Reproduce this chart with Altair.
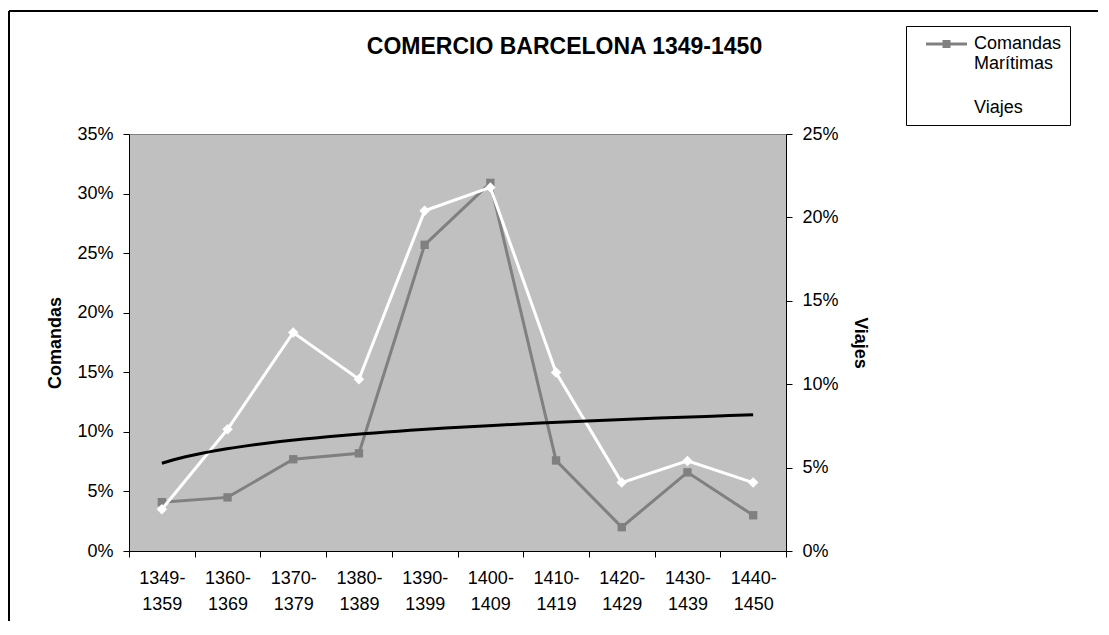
import altair as alt
import pandas as pd

# ---- data ----
label_top = ["1349-", "1360-", "1370-", "1380-", "1390-", "1400-", "1410-", "1420-", "1430-", "1440-"]
label_bottom = ["1359", "1369", "1379", "1389", "1399", "1409", "1419", "1429", "1439", "1450"]
period_index = [1, 2, 3, 4, 5, 6, 7, 8, 9, 10]
comandas = [0.041, 0.045, 0.077, 0.082, 0.257, 0.309, 0.076, 0.020, 0.066, 0.030]
viajes = [0.025, 0.073, 0.131, 0.103, 0.204, 0.218, 0.107, 0.041, 0.054, 0.041]
left_ticks = [0, 0.05, 0.10, 0.15, 0.20, 0.25, 0.30, 0.35]
right_ticks = [0, 0.05, 0.10, 0.15, 0.20, 0.25]
series_names = ["Comandas Marítimas", "Viajes"]

df = pd.DataFrame({
    "idx": period_index,
    "periodo": [a + b for a, b in zip(label_top, label_bottom)],
    "comandas": comandas,
    "viajes": viajes,
})

FONT = "Liberation Sans"
W, H = 657, 417
half_band = W / len(period_index) / 2

label_pairs = ",".join("['%s','%s']" % (a, b) for a, b in zip(label_top, label_bottom))
x_label_expr = "datum.value > %d ? '' : [%s][floor(datum.value)]" % (len(period_index), label_pairs)

x_enc = alt.X(
    "idx:Q",
    scale=alt.Scale(domain=[0.5, len(period_index) + 0.5], nice=False, zero=False),
    axis=alt.Axis(
        title=None,
        values=[i + 0.5 for i in range(len(period_index) + 1)],
        labelExpr=x_label_expr,
        labelOffset=half_band,
        labelFlush=False,
        labelOverlap=False,
        labelBound=False,
        labelFontSize=18,
        labelLineHeight=26,
        labelPadding=12,
        tickSize=6,
        grid=False,
        domainColor="black",
        tickColor="black",
        labelColor="black",
    ),
)

left_scale = alt.Scale(domain=[0, 0.35], nice=False, zero=True)
right_scale = alt.Scale(domain=[0, 0.25], nice=False, zero=True)

color_scale = alt.Scale(domain=series_names, range=["#808080", "#FFFFFF"])
# line + square legend glyph (unit = 10px for symbolSize 400)
legend_symbol = "M-2.05,-0.15H2.05V0.15H-2.05Z M-0.4,-0.4H0.4V0.4H-0.4Z"
legend = alt.Legend(
    title=None,
    orient="none",
    legendX=906 - 129,
    legendY=26 - 134,
    fillColor="white",
    strokeColor="black",
    padding=8,
    symbolType=legend_symbol,
    symbolSize=400,
    symbolStrokeWidth=0,
    symbolOffset=22.5,
    labelFontSize=18,
    labelFont=FONT,
    labelColor="black",
    labelOffset=17.5,
    rowPadding=25,
    labelExpr="datum.label == 'Comandas Marítimas' ? ['Comandas', 'Marítimas'] : datum.label",
)

left_axis = alt.Axis(
    title="Comandas", values=left_ticks, format=".0%", orient="left", grid=False,
    labelFontSize=18, titleFontSize=18, titleFontWeight="bold", titlePadding=12,
    tickSize=6, labelPadding=10, domainColor="black", tickColor="black",
    labelColor="black", titleColor="black",
)
right_axis = alt.Axis(
    title="Viajes", values=right_ticks, format=".0%", orient="right", grid=False,
    labelFontSize=18, titleFontSize=18, titleFontWeight="bold", titlePadding=12,
    tickSize=6, labelPadding=10, domainColor="black", tickColor="black",
    labelColor="black", titleColor="black",
)

base = alt.Chart(df)

com_line = base.mark_line(color="#808080", strokeWidth=3).encode(
    x=x_enc, y=alt.Y("comandas:Q", scale=left_scale, axis=left_axis)
)
com_pts = base.transform_calculate(
    serie="'%s'" % series_names[0]
).mark_point(shape="square", filled=True, size=70, opacity=1).encode(
    x=x_enc, y=alt.Y("comandas:Q", scale=left_scale, axis=left_axis),
    color=alt.Color("serie:N", scale=color_scale, legend=legend),
)
com_layer = alt.layer(com_line, com_pts)

via_line = base.mark_line(color="#FFFFFF", strokeWidth=3).encode(
    x=x_enc, y=alt.Y("viajes:Q", scale=right_scale, axis=right_axis)
)
via_pts = base.transform_calculate(
    serie="'%s'" % series_names[1]
).mark_point(shape="diamond", filled=True, size=110, opacity=1).encode(
    x=x_enc, y=alt.Y("viajes:Q", scale=right_scale, axis=right_axis),
    color=alt.Color("serie:N", scale=color_scale, legend=legend),
)
via_layer = alt.layer(via_line, via_pts)

trend = base.transform_regression(
    "idx", "comandas", method="log", extent=[1, len(period_index)]
).mark_line(color="black", strokeWidth=3).encode(
    x=x_enc, y=alt.Y("comandas:Q", scale=left_scale, axis=None)
)

# decorative outer frame (left and top edges of the chart area)
frame_left = base.mark_rule(color="black", strokeWidth=1.5).encode(
    x=alt.value(-120), y=alt.value(-123), y2=alt.value(H + 120)
)
frame_top = base.mark_rule(color="black", strokeWidth=1.5).encode(
    x=alt.value(-120), x2=alt.value(W + 330), y=alt.value(-123)
)
deco = alt.layer(trend, frame_left, frame_top)

chart = alt.layer(com_layer, via_layer, deco).resolve_scale(
    y="independent"
).properties(
    width=W,
    height=H,
    autosize=alt.AutoSizeParams(type="none"),
    padding={"left": 121, "top": 126, "right": 312, "bottom": 70},
    title=alt.TitleParams(
        "COMERCIO BARCELONA 1349-1450", fontSize=23, fontWeight="bold", font=FONT,
        color="black", anchor="middle", dx=107, offset=0, dy=49,
    ),
).configure(
    font=FONT,
).configure_view(
    fill="#C0C0C0", stroke="#808080", strokeWidth=1,
).configure_axis(
    labelFont=FONT, titleFont=FONT,
)

chart.save("out.html", embed_options={"renderer": "svg", "actions": False})
